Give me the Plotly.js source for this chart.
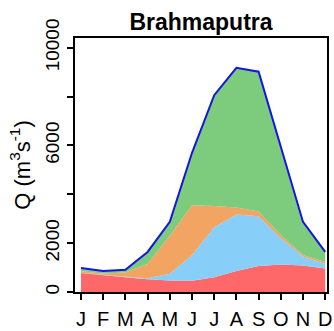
<!DOCTYPE html>
<html>
<head>
<meta charset="utf-8">
<script src="https://cdn.plot.ly/plotly-3.0.1.min.js"></script>
<style>html,body{margin:0;padding:0;background:#fff;}#chart{width:334px;height:331px;}</style>
</head>
<body>
<div id="chart"></div>
<script>
// Month positions and labels
const months = [1,2,3,4,5,6,7,8,9,10,11,12];
const monthLabels = ["J","F","M","A","M","J","J","A","S","O","N","D"];

// Stacked components (m3/s)
const redComp    = [780, 680, 600, 520, 470, 460, 600, 860, 1060, 1130, 1080, 960];
const blueComp   = [10, 20, 20, 40, 280, 1040, 2050, 2310, 2040, 1070, 370, 190];
const orangeComp = [60, 60, 180, 590, 1550, 2050, 870, 290, 200, 120, 70, 80];
const greenComp  = [130, 100, 110, 490, 570, 2150, 4540, 5720, 5720, 3630, 1350, 410];
// Total discharge (blue line)
const totalQ     = [980, 860, 910, 1640, 2870, 5700, 8060, 9180, 9020, 5950, 2870, 1640];

// Y tick labels
const yTickVals = [0, 2000, 4000, 6000, 8000, 10000];
const yTickText = ["0", "2000", "", "6000", "", "10000"];

const FONT = "Liberation Sans, Arial, sans-serif";

function area(y, color) {
  return {x: months, y: y, type: "scatter", mode: "lines", stackgroup: "s",
          line: {width: 0, color: color}, fillcolor: color, hoverinfo: "skip"};
}

const traces = [
  area(redComp, "#FF6868"),
  area(blueComp, "#87CEF8"),
  area(orangeComp, "#F2A462"),
  area(greenComp, "#7DCB7D"),
  {x: months, y: totalQ, type: "scatter", mode: "lines",
   line: {color: "#1414E6", width: 2}, hoverinfo: "skip"}
];

const layout = {
  width: 334, height: 331,
  margin: {l: 75, r: 7, t: 38, b: 39, pad: 0},
  paper_bgcolor: "#fff", plot_bgcolor: "#fff",
  showlegend: false,
  font: {family: FONT, color: "#000"},
  title: {text: "<b>Brahmaputra</b>", font: {size: 23, family: FONT, color: "#000"},
          x: 0.5, xref: "paper", y: 1 - 21.7/331, yref: "container", yanchor: "middle"},
  xaxis: {
    range: [0.73, 12.08], tickvals: months, ticktext: monthLabels,
    ticks: "outside", ticklen: 6, tickwidth: 2, tickcolor: "#000",
    showline: true, linewidth: 2, linecolor: "#000", mirror: true,
    showgrid: false, zeroline: false, tickfont: {size: 20, family: FONT},
    ticklabelstandoff: 2
  },
  yaxis: {
    range: [0, 10400], tickvals: yTickVals, ticktext: yTickText,
    ticks: "outside", ticklen: 6, tickwidth: 2, tickcolor: "#000",
    showline: true, linewidth: 2, linecolor: "#000", mirror: true,
    showgrid: false, zeroline: false, tickangle: -90,
    tickfont: {size: 19, family: FONT},
    title: {text: "Q (m<sup>3</sup>s<sup>-1</sup>)", font: {size: 22, family: FONT}, standoff: 6}
  }
};

Plotly.newPlot("chart", traces, layout, {staticPlot: true, displayModeBar: false});
</script>
</body>
</html>
